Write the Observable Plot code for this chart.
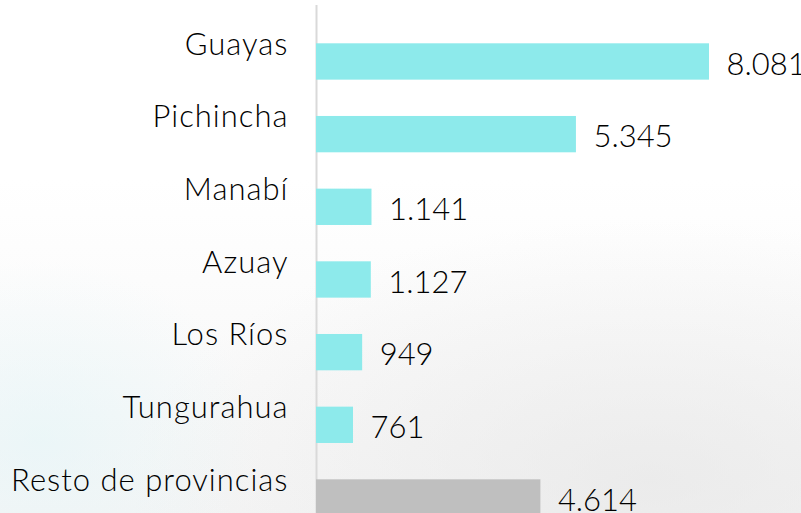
<!DOCTYPE html>
<html><head><meta charset="utf-8">
<script src="https://cdn.jsdelivr.net/npm/d3@7"></script>
<script src="https://cdn.jsdelivr.net/npm/@observablehq/plot@0.6"></script>
<style>
html,body{margin:0;padding:0;width:801px;height:513px;overflow:hidden;}
body{
  background:
    radial-gradient(ellipse 220px 180px at 40px 440px, rgba(225,245,248,0.55), rgba(255,255,255,0) 100%),
    radial-gradient(ellipse 520px 260px at 650px 480px, rgba(228,228,228,0.6), rgba(255,255,255,0) 100%),
    linear-gradient(to bottom, #ffffff 0%, #ffffff 35%, #f5f5f5 100%);
}
#chart svg{display:block;}
.cat text{letter-spacing:1px;}
</style></head><body><div id="chart"></div>
<script>
const provincias = ["Guayas","Pichincha","Manabí","Azuay","Los Ríos","Tungurahua","Resto de provincias"];
const valores = [8081, 5345, 1141, 1127, 949, 761, 4614];
const grupos = ["provincia","provincia","provincia","provincia","provincia","provincia","resto"];

const data = provincias.map((p, i) => ({provincia: p, valor: valores[i], grupo: grupos[i]}));
const fmt = d3.formatLocale({decimal: ",", thousands: ".", grouping: [3], currency: ["$", ""]}).format(",d");

const step = 72.67;
const y0 = 43.3 - 0.25 * step;

const chart = Plot.plot({
  width: 801, height: 513,
  marginLeft: 316, marginRight: 0, marginTop: 5, marginBottom: 0,
  style: {background: "transparent", fontFamily: "Lato", color: "#000", overflow: "hidden"},
  x: {domain: [0, 9973], axis: null},
  y: {domain: provincias, range: [y0, y0 + 7 * step], paddingInner: 0.5, paddingOuter: 0.25, round: false, axis: null},
  color: {domain: ["provincia", "resto"], range: ["#8deaeb", "#bfbfbf"]},
  marks: [
    Plot.ruleX([0], {stroke: "#d9d9d9", strokeWidth: 2}),
    Plot.barX(data, {x: "valor", y: "provincia", fill: "grupo"}),
    Plot.text(data, {x: "valor", y: "provincia", text: d => fmt(d.valor), textAnchor: "start", dx: 17, dy: 2.7, fontSize: 31, fontWeight: 300}),
    Plot.text(data, {x: 0, y: "provincia", text: "provincia", textAnchor: "end", dx: -28, dy: -17.3, fontSize: 31, fontWeight: 300, className: "cat"})
  ]
});
document.getElementById("chart").append(chart);
</script>
</body></html>
